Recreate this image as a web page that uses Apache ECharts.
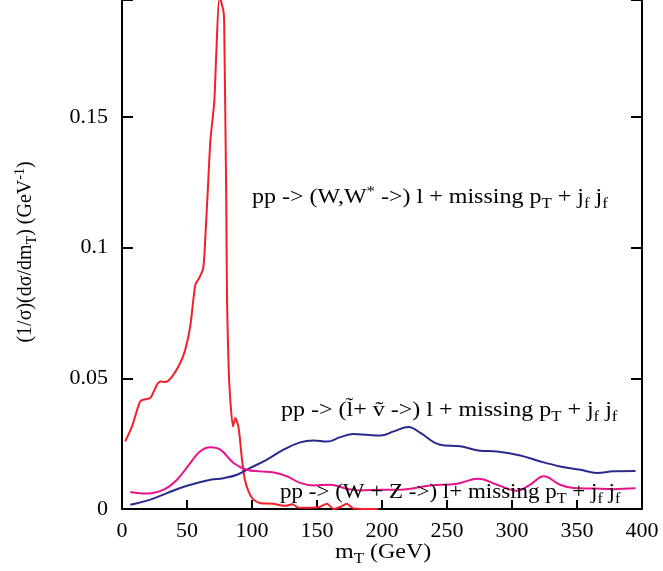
<!DOCTYPE html>
<html><head><meta charset="utf-8">
<script src="https://cdn.jsdelivr.net/npm/echarts@6/dist/echarts.min.js"></script>
<style>html,body{margin:0;padding:0;background:#fff}#c{width:663px;height:571px}</style>
</head><body><div id="c"></div>
<script>
// W,W* background
const wwX = [2.5, 7.7, 14, 17.9, 21.8, 26.9, 29.5, 33.3, 38.5, 44.8, 48.7, 52.5, 56.4, 59.5, 62.5, 64, 66.4, 68, 71, 72.5, 75, 78.2, 78.7, 80.2, 80.8, 82, 83.3, 85.4, 87.2, 89.7, 92.3, 94.8, 100, 106, 116, 126, 131, 136, 146, 152, 157.7, 162.8, 168, 173, 178, 197];
const wwY = [0.0259, 0.0316, 0.0412, 0.042, 0.0425, 0.0476, 0.0488, 0.0486, 0.0507, 0.0559, 0.061, 0.0699, 0.0858, 0.0885, 0.0923, 0.103, 0.126, 0.141, 0.156, 0.174, 0.196, 0.190, 0.182, 0.118, 0.080, 0.0546, 0.0418, 0.0316, 0.0348, 0.031, 0.0189, 0.0106, 0.0042, 0.0023, 0.002, 0.0012, 0.0018, 0.0005, 0.0005, 0.0008, 0.002, 0.0, 0.0008, 0.002, 0.0002, 0.0];
// slepton + sneutrino signal
const slX = [6.4, 21.8, 34.6, 50, 68, 78, 88.5, 98.7, 111.5, 124.3, 137, 147.4, 157.7, 168, 178, 188.5, 199, 209, 220.5, 229.5, 244.8, 260, 275.6, 288.5, 306.4, 321.8, 337, 352.5, 365.4, 378, 395];
const slY = [0.0016, 0.0036, 0.0061, 0.0089, 0.0112, 0.0118, 0.0131, 0.0157, 0.0189, 0.0227, 0.0255, 0.0262, 0.0258, 0.0275, 0.0287, 0.0284, 0.0281, 0.0297, 0.0314, 0.0291, 0.0246, 0.024, 0.0223, 0.022, 0.0205, 0.0182, 0.0163, 0.015, 0.0138, 0.0144, 0.0145];
// W + Z background
const wzX = [6.4, 19.2, 32, 42.3, 52.5, 60, 68, 75.6, 85.8, 96, 106.4, 116.7, 127, 137, 147.4, 160, 173, 183.3, 199, 214, 237, 257.7, 274, 288.5, 303.8, 314, 324.4, 337, 347.4, 362.8, 378, 395];
const wzY = [0.0065, 0.0059, 0.0074, 0.0112, 0.0176, 0.022, 0.0236, 0.0227, 0.0176, 0.015, 0.0144, 0.014, 0.0125, 0.01, 0.009, 0.0093, 0.0077, 0.0071, 0.0074, 0.0074, 0.009, 0.0097, 0.0116, 0.0093, 0.007, 0.0093, 0.0125, 0.0093, 0.008, 0.0078, 0.0076, 0.0079];

const xTicks = [0, 50, 100, 150, 200, 250, 300, 350, 400];
const yTicks = [0, 0.05, 0.1, 0.15];

const pairs = (xs, ys) => xs.map((x, i) => [x, ys[i]]);
const FF = '"Liberation Serif", "DejaVu Serif", serif';

const chart = echarts.init(document.getElementById('c'), null, {renderer: 'canvas'});

const baseRich = (fs) => ({
  a: {fontSize: fs, fontFamily: FF, color: '#000', lineHeight: 26, verticalAlign: 'middle'},
  sub: {fontSize: Math.round(fs * 0.68), fontFamily: FF, color: '#000', lineHeight: 13, verticalAlign: 'bottom'},
  sup: {fontSize: Math.round(fs * 0.68), fontFamily: FF, color: '#000', lineHeight: 13, verticalAlign: 'top'}
});

function label(text, x, y, fs, rot, sx) {
  return {
    type: 'text', x: x, y: y, rotation: rot || 0, scaleX: sx || 1, z: 5,
    style: {text: text, rich: baseRich(fs), font: fs + 'px ' + FF, fill: '#000',
      align: rot ? 'center' : 'left', verticalAlign: 'middle'}
  };
}

const axisCommon = {
  axisLine: {show: true, onZero: false, lineStyle: {color: '#000', width: 2}},
  axisTick: {show: true, inside: true, lineStyle: {color: '#000', width: 2}},
  splitLine: {show: false}
};

chart.setOption({
  animation: false,
  backgroundColor: '#fff',
  grid: {left: 122, right: 21, top: 0, bottom: 62},
  xAxis: [
    Object.assign({type: 'value', min: 0, max: 400, interval: 50, position: 'bottom',
      axisLabel: {color: '#000', fontSize: 22, fontFamily: FF, margin: 11,
        formatter: v => String(xTicks.find(t => Math.abs(t - v) < 1e-9) ?? '')}}, axisCommon,
      {axisTick: {show: true, inside: true, length: 9, lineStyle: {color: '#000', width: 2}}})
  ],
  yAxis: [
    Object.assign({type: 'value', min: 0, max: 0.1948, interval: 0.05, position: 'left',
      axisLabel: {color: '#000', fontSize: 22, fontFamily: FF, margin: 14,
        formatter: v => (yTicks.some(t => Math.abs(t - v) < 1e-9) ? String(+v.toFixed(2)) : '')}}, axisCommon,
      {axisTick: {show: true, inside: true, length: 11, lineStyle: {color: '#000', width: 2}}}),
    Object.assign({type: 'value', min: 0, max: 0.1948, interval: 0.05, position: 'right',
      axisLabel: {show: false}}, axisCommon,
      {axisTick: {show: true, inside: true, length: 11, lineStyle: {color: '#000', width: 2}}})
  ],
  series: [
    {type: 'line', name: 'WW', data: pairs(wwX, wwY), showSymbol: false, smooth: 0.25,
      lineStyle: {color: '#f2202a', width: 2}, z: 3},
    {type: 'line', name: 'slep', data: pairs(slX, slY), showSymbol: false, smooth: 0.4,
      lineStyle: {color: '#2a2a8e', width: 2}, z: 3},
    {type: 'line', name: 'WZ', data: pairs(wzX, wzY), showSymbol: false, smooth: 0.4,
      lineStyle: {color: '#e8138b', width: 2}, z: 3}
  ],
  graphic: [
    label('{a|pp -> (W,W}{sup|*}{a| ->) l + missing p}{sub|T}{a| + j}{sub|f}{a| j}{sub|f}', 252, 198, 20, 0, 1.2),
    label('{a|pp -> (l\u0303+ \u1e7d ->) l + missing p}{sub|T}{a| + j}{sub|f}{a| j}{sub|f}', 281, 411, 20, 0, 1.2),
    label('{a|pp -> (W + Z ->) l+ missing p}{sub|T}{a| + j}{sub|f}{a| j}{sub|f}', 280, 493, 20, 0, 1.15),
    label('{a|m}{sub|T}{a| (GeV)}', 335, 553, 20, 0, 1.2),
    label('{a|(1/\u03c3)(d\u03c3/dm}{sub|T}{a|) (GeV}{sup|-1}{a|)}', 26, 252, 20, Math.PI / 2)
  ]
});
</script></body></html>
